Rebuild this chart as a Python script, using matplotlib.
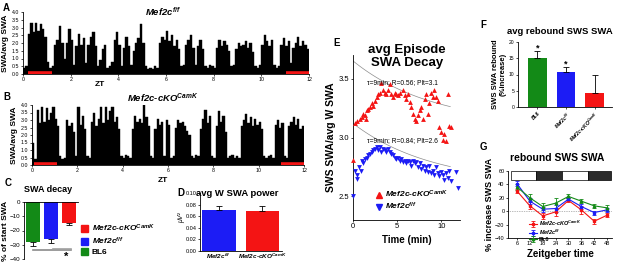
import numpy as np
import matplotlib
matplotlib.use('Agg')
import matplotlib.pyplot as plt
from matplotlib.patches import Patch, Rectangle
from matplotlib.lines import Line2D

plt.rcParams['font.family'] = ['Liberation Sans', 'DejaVu Sans']
plt.rcParams['mathtext.fontset'] = 'custom'
plt.rcParams['mathtext.rm'] = 'Liberation Sans'
plt.rcParams['mathtext.it'] = 'Liberation Sans:italic'
plt.rcParams['mathtext.bf'] = 'Liberation Sans:italic:bold'
plt.rcParams['axes.linewidth'] = 0.6
plt.rcParams['xtick.major.width'] = 0.5
plt.rcParams['ytick.major.width'] = 0.5
plt.rcParams['xtick.major.size'] = 1.5
plt.rcParams['ytick.major.size'] = 1.5
plt.rcParams['xtick.major.pad'] = 1
plt.rcParams['ytick.major.pad'] = 1

RED = '#f41414'
BLUE = '#1c1cf5'
GREEN = '#138a17'

# ---- data ----
# A / B : SWA normalised to average, 0.1 h bins over ZT 0-12
zt_bins = np.arange(120) * 0.1
swa_ff = [0.4, 0.5, 2.6, 3.3, 2.7, 3.3, 2.8, 3.2, 2.9, 2.4,
          0.8, 0.4, 0.5, 1.9, 2.2, 3.1, 2.0, 1.0, 2.0, 2.9,
          2.2, 0.6, 1.8, 2.6, 1.9, 2.3, 0.7, 1.9, 2.4, 2.7,
          1.8, 0.5, 0.9, 1.6, 1.9, 0.4, 0.5, 0.8, 2.2, 2.7,
          1.9, 0.5, 1.7, 2.4, 1.8, 0.6, 1.5, 2.0, 2.3, 3.2,
          2.0, 0.5, 0.3, 0.4, 0.3, 0.5, 0.4, 2.0, 2.4, 2.2,
          2.8, 2.1, 2.5, 1.8, 2.2, 1.6, 0.5, 0.6, 1.9, 2.2,
          2.5, 1.7, 0.6, 1.8, 2.2, 1.6, 0.5, 0.4, 0.6, 0.5,
          0.4, 1.7, 2.2, 1.8, 2.1, 1.9, 1.5, 0.5, 0.6, 1.6,
          2.0, 1.8, 1.9, 2.1, 1.7, 2.0, 1.4, 0.5, 0.4, 0.6,
          1.9, 2.5, 2.1, 1.8, 2.2, 0.6, 0.4, 0.5, 1.9, 2.3,
          1.8, 2.1, 0.7, 1.7, 2.0, 2.4, 1.8, 2.1, 1.9, 1.6]
swa_cko = [1.5, 0.4, 3.7, 2.8, 3.9, 2.9, 3.8, 3.0, 3.5, 3.9,
           3.1, 2.6, 0.6, 0.4, 0.5, 3.0, 2.6, 2.8, 2.2, 0.6,
           3.9, 2.7, 3.3, 2.4, 0.6, 0.5, 2.9, 3.5, 2.6, 3.1,
           3.9, 2.8, 3.9, 3.0, 3.6, 3.9, 2.9, 3.2, 2.4, 0.6,
           0.5, 0.7, 0.6, 0.5, 2.4, 3.3, 2.9, 3.1, 2.8, 4.0,
           3.2, 2.6, 0.6, 0.5, 2.4, 3.1, 2.7, 2.9, 0.6, 3.0,
           2.7, 0.5, 0.6, 2.5, 3.0, 2.8, 2.9, 2.6, 2.3, 2.0,
           0.6, 0.5, 0.7, 0.6, 2.4, 3.1, 3.7, 2.8, 3.3, 0.6,
           0.5, 2.6, 3.6, 2.9, 3.3, 2.2, 0.5, 0.6, 0.7, 0.5,
           0.6, 0.5, 2.6, 3.0, 3.4, 2.8, 3.2, 2.6, 3.1, 2.7,
           2.9, 2.4, 0.6, 0.5, 0.6, 0.7, 0.5, 2.7, 3.0, 2.5,
           2.8, 0.6, 0.5, 2.6, 2.9, 3.2, 2.7, 3.1, 2.4, 2.6]
dep_ff = [(0.22, 1.2), (11.05, 12.0)]
dep_cko = [(0.08, 1.1), (11.0, 12.0)]

# C : SWA decay (% of start SWA)
c_groups = ['BL6', 'Mef2c-ff', 'Mef2c-cKO']
c_vals = [-28, -26, -15]
c_err = [3, 2.5, 1.2]

# D : avg W SWA power
d_vals = [0.070, 0.069]
d_err = [0.008, 0.009]

# E : avg episode SWA decay
red_t = [0, 0.22, 0.49, 0.79, 0.97, 1.16, 1.35, 1.46, 1.54, 1.72, 1.91, 2.10, 2.28, 2.47, 2.66,
         2.85, 3.03, 3.22, 3.41, 3.60, 3.78, 3.97, 4.16, 4.34, 4.53, 4.72, 4.91, 5.09, 5.28, 5.66,
         5.84, 6.03, 6.22, 6.40, 6.59, 6.78, 6.97, 7.15, 7.34, 7.53, 7.72, 7.90, 8.09, 8.28, 8.46,
         8.65, 8.84, 9.03, 9.21, 9.40, 9.59, 9.78, 9.96, 10.15, 10.34, 10.52, 10.71, 10.90, 11.05]
red_y = [2.81, 3.12, 3.14, 3.16, 3.17, 3.20, 3.19, 3.16, 3.23, 3.24, 3.26, 3.29, 3.27, 3.31, 3.34,
         3.37, 3.38, 3.46, 3.40, 3.38, 3.37, 3.40, 3.45, 3.37, 3.34, 3.38, 3.37, 3.36, 3.38, 3.40,
         3.36, 3.33, 3.37, 3.30, 3.26, 3.20, 3.16, 3.14, 3.19, 3.23, 3.26, 3.16, 3.33, 3.37, 3.20,
         3.29, 3.38, 3.34, 3.40, 3.34, 3.31, 3.09, 3.05, 2.98, 3.03, 2.97, 3.37, 3.10, 3.09]
blue_t = [0, 0.22, 0.41, 0.49, 0.71, 0.86, 0.97, 1.16, 1.35, 1.54, 1.72, 1.91, 2.10, 2.28, 2.47,
          2.66, 2.85, 3.03, 3.22, 3.41, 3.60, 3.78, 3.97, 4.16, 4.34, 4.53, 4.72, 4.91, 5.09, 5.28,
          5.47, 5.66, 5.84, 6.03, 6.22, 6.40, 6.59, 6.78, 6.97, 7.15, 7.34, 7.53, 7.72, 7.90, 8.09,
          8.28, 8.46, 8.65, 8.84, 9.03, 9.21, 9.40, 9.59, 9.78, 9.96, 10.15, 10.34, 10.52, 10.71, 10.90,
          11.10, 11.60, 11.90]
blue_y = [2.50, 2.72, 2.68, 2.65, 2.75, 2.72, 2.80, 2.78, 2.82, 2.83, 2.85, 2.86, 2.88, 2.89, 2.90,
          2.92, 2.89, 2.92, 2.88, 2.90, 2.89, 2.88, 2.90, 2.88, 2.86, 2.85, 2.83, 2.82, 2.83, 2.80,
          2.82, 2.79, 2.80, 2.78, 2.80, 2.79, 2.76, 2.80, 2.78, 2.79, 2.75, 2.78, 2.73, 2.76, 2.72,
          2.75, 2.71, 2.76, 2.70, 2.72, 2.68, 2.75, 2.70, 2.67, 2.71, 2.68, 2.64, 2.70, 2.66, 2.72,
          2.63, 2.71, 2.57]
# exponential fits (tau, plateau, amplitude)
fit_red = (9, 3.1, 0.55)
fit_blue = (9, 2.6, 0.52)

# F : avg rebound SWS SWA (% increase)
f_vals = [15.0, 10.8, 4.3]
f_err = [2.3, 1.5, 5.5]

# G : rebound SWS SWA over zeitgeber time
g_zt = [6, 12, 18, 24, 30, 36, 42, 48]
g_cko = [30, 8, -7, -1, 16, 2, -15, -6]
g_cko_err = [3, 5, 5, 6, 3, 6, 4, 3]
g_ff = [41, 15, 3, 4, 18, 7, -2, 2]
g_ff_err = [4, 4, 4, 5, 2, 4, 3, 3]
g_bl6 = [36, 20, 7, 12, 22, 15, 8, 5]
g_bl6_err = [4, 5, 5, 7, 3, 3, 3, 4]
g_light = [(3, 15, 'white'), (15, 27, '#2b2b2b'), (27, 39, 'white'), (39, 50, '#2b2b2b')]

W, H = 617, 262
fig = plt.figure(figsize=(W / 100, H / 100), dpi=100)


def px_axes(x0, y0, x1, y1):
    return fig.add_axes([x0 / W, 1 - y1 / H, (x1 - x0) / W, (y1 - y0) / H])


def ftext(x, y, s, **kw):
    fig.text(x / W, 1 - y / H, s, **kw)


def gene(name, sup):
    return name + '$^{\\mathbf{' + sup + '}}$'


FF = gene('Mef2c', 'f/f')
CKO = gene('Mef2c-cKO', 'CamK')
gkw = dict(fontstyle='italic', fontweight='bold')


def clean(ax, fs=4):
    ax.spines['top'].set_visible(False)
    ax.spines['right'].set_visible(False)
    ax.tick_params(labelsize=fs)


# ---- A and B ----
for rect, vals, dep, title, letter, ly, ty in [((23, 12, 309, 74), swa_ff, dep_ff, FF, 'A', 8, 12),
                                              ((32, 105, 304, 165), swa_cko, dep_cko, CKO, 'B', 97, 98)]:
    ax = px_axes(*rect)
    ax.bar(zt_bins, vals, width=0.1, align='edge', color='black', edgecolor='black', linewidth=0.3)
    for s, e in dep:
        ax.plot([s, e], [0.07, 0.07], color=RED, lw=2.6, solid_capstyle='butt')
    ax.set_xlim(0, 12)
    ax.set_ylim(0, 4)
    ax.set_xticks(range(0, 13, 2))
    ax.set_yticks(np.arange(0, 4.01, 0.5))
    ax.set_yticklabels(['%.1f' % v for v in np.arange(0, 4.01, 0.5)])
    clean(ax, 3.8)
    ax.set_ylabel('SWA/avg SWA', fontsize=6, fontweight='bold', labelpad=2)
    ftext(163, ty, title, fontsize=6.8, ha='center', va='center', **gkw)
    ftext(3, ly, letter, fontsize=7, fontweight='bold', va='center')
ftext(100, 85, 'ZT', fontsize=6, fontweight='bold', ha='center', va='center')
ftext(163, 180, 'ZT', fontsize=6, fontweight='bold', ha='center', va='center')

# ---- C ----
ax = px_axes(24, 202, 78, 259)
cc = [GREEN, BLUE, RED]
ax.bar(range(3), c_vals, width=0.8, color=cc, edgecolor='none',
       yerr=[c_err, [0, 0, 0]], error_kw=dict(ecolor='black', elinewidth=0.6, capsize=2, capthick=0.6))
ax.set_xlim(-0.5, 2.5)
ax.set_ylim(-40, 0)
ax.set_xticks([])
ax.set_yticks([0, -10, -20, -30, -40])
ax.spines['right'].set_visible(False)
ax.spines['bottom'].set_visible(False)
ax.tick_params(labelsize=4.5)
ax.set_ylabel('% of start SWA', fontsize=6, fontweight='bold', labelpad=1)
ax.plot([0, 2.1], [-33.7, -33.7], color='#8a8a8a', lw=1.2, clip_on=False)
ax.plot([1.1, 2.1], [-32.8, -32.8], color='#a0a0a0', lw=1.2, clip_on=False)
ax.text(1.85, -38.5, '*', fontsize=8, fontweight='bold', ha='center', va='center')
ftext(48, 190, 'SWA decay', fontsize=6.5, fontweight='bold', ha='center', va='center')
ftext(5, 183, 'C', fontsize=7, fontweight='bold', va='center')
handles = [Patch(color=RED), Patch(color=BLUE), Patch(color=GREEN)]
leg = fig.legend(handles, [CKO, FF, 'BL6'], loc='upper left', bbox_to_anchor=(81 / W, 1 - 223 / H),
                 frameon=False, fontsize=6, handlelength=0.9, handleheight=0.9, labelspacing=0.15,
                 handletextpad=0.4, borderpad=0, borderaxespad=0)
for i, t in enumerate(leg.get_texts()):
    t.set_fontweight('bold')
    if i < 2:
        t.set_fontstyle('italic')

# ---- D ----
ax = px_axes(200, 193, 282, 251)
ax.bar([0, 1], d_vals, width=0.77, color=[BLUE, RED], edgecolor='none',
       yerr=[[0, 0], d_err], error_kw=dict(ecolor='black', elinewidth=0.6, capsize=2.5, capthick=0.6))
ax.set_xlim(-0.43, 1.45)
ax.set_ylim(0, 0.10)
ax.set_yticks(np.arange(0, 0.101, 0.02))
ax.set_yticklabels(['%.2f' % v for v in np.arange(0, 0.101, 0.02)])
ax.set_xticks([0, 1])
ax.set_xticklabels([FF, CKO], **gkw)
clean(ax, 4)
ax.tick_params(axis='x', labelsize=4.6, length=0, pad=0.5)
ftext(182, 218, 'μV²', fontsize=5, fontstyle='italic', rotation=90, ha='center', va='center')
ftext(237, 194, 'avg W SWA power', fontsize=6.8, fontweight='bold', ha='center', va='center')
ftext(177, 193, 'D', fontsize=7, fontweight='bold', va='center')

# ---- E ----
ax = px_axes(353, 55, 460, 220)
tt = np.linspace(0, 11, 100)
for tau, plat, amp in [fit_red, fit_blue]:
    ax.plot(tt, plat + amp * np.exp(-tt / tau), color='#8c8c8c', lw=0.5, zorder=1)
ax.scatter(red_t, red_y, marker='^', s=12, color=RED, linewidths=0, zorder=3, clip_on=False)
ax.scatter(blue_t, blue_y, marker='v', s=12, color=BLUE, linewidths=0, zorder=3, clip_on=False)
ax.set_xlim(0, 12.1)
ax.set_ylim(2.3, 3.7)
ax.set_xticks([0, 5, 10])
ax.set_yticks([2.5, 3.0, 3.5])
clean(ax, 5.5)
ax.set_xlabel('Time (min)', fontsize=7, fontweight='bold', labelpad=3)
ax.set_ylabel('SWS SWA/avg W SWA', fontsize=7.5, fontweight='bold', labelpad=2)
ax.text(1.55, 3.465, 'τ=9min; R=0.56; Plt=3.1', fontsize=4.8, va='center')
ax.text(1.55, 2.975, 'τ=9min; R=0.84; Plt=2.6', fontsize=4.8, va='center')
eh = [Line2D([], [], marker='^', color=RED, ls='none', ms=4),
      Line2D([], [], marker='v', color=BLUE, ls='none', ms=4)]
leg = ax.legend(eh, [CKO, FF], loc='upper left', bbox_to_anchor=(0.2, 0.19), frameon=False,
                fontsize=6, handlelength=1, handletextpad=0.3, labelspacing=0.1, borderpad=0,
                borderaxespad=0)
for t in leg.get_texts():
    t.set_fontweight('bold')
    t.set_fontstyle('italic')
ftext(407, 50, 'avg Episode', fontsize=9.5, fontweight='bold', ha='center', va='center')
ftext(407, 63, 'SWA Decay', fontsize=9.5, fontweight='bold', ha='center', va='center')
ftext(333, 43, 'E', fontsize=7, fontweight='bold', va='center')

# ---- F ----
ax = px_axes(518, 42, 612, 107)
ax.bar(range(3), f_vals, width=0.655, color=[GREEN, BLUE, RED], edgecolor='none',
       yerr=[[0, 0, 0], f_err], error_kw=dict(ecolor='black', elinewidth=0.6, capsize=2, capthick=0.6))
ax.text(0, 18.0, '*', fontsize=6.5, fontweight='bold', ha='center', va='center')
ax.text(1, 13.2, '*', fontsize=6.5, fontweight='bold', ha='center', va='center')
ax.set_xlim(-0.67, 2.6)
ax.set_ylim(0, 20)
ax.set_yticks([0, 5, 10, 15, 20])
ax.set_xticks(range(3))
ax.set_xticklabels(['BL6', FF, CKO], rotation=45, ha='right', rotation_mode='anchor', **gkw)
clean(ax, 3.6)
ax.set_ylabel('SWS SWA rebound\n(%increase)', fontsize=5.5, fontweight='bold', labelpad=2,
              linespacing=1.0)
ftext(560, 32, 'avg rebound SWS SWA', fontsize=6.8, fontweight='bold', ha='center', va='center')
ftext(480, 25, 'F', fontsize=7, fontweight='bold', va='center')

# ---- G ----
ax = px_axes(508, 171, 612, 238)
for s, e, c in g_light:
    ax.add_patch(Rectangle((s, 46), e - s, 14, facecolor=c, edgecolor='black', lw=0.5, zorder=2))
ax.axhline(0, color='#777777', lw=0.5, ls=(0, (1, 1.5)), zorder=1)
hs = []
for vals, err, c, m in [(g_cko, g_cko_err, RED, 's'), (g_ff, g_ff_err, BLUE, 's'),
                        (g_bl6, g_bl6_err, GREEN, '^')]:
    h = ax.errorbar(g_zt, vals, yerr=err, color=c, marker=m, ms=1.8, lw=0.8, elinewidth=0.6,
                    capsize=1.2, capthick=0.6, zorder=3)
    hs.append(h)
ax.set_xlim(1.8, 50.3)
ax.set_ylim(-40, 60)
ax.set_xticks(g_zt)
ax.set_yticks(range(-40, 61, 20))
clean(ax, 4)
ax.set_xlabel('Zeitgeber time', fontsize=7, fontweight='bold', labelpad=2)
ax.set_ylabel('% increase SWS SWA', fontsize=6.5, fontweight='bold', labelpad=1)
leg = ax.legend(hs, [CKO, FF, 'BL6'], loc='upper left', bbox_to_anchor=(0.2, 0.29), frameon=False,
                fontsize=4, handlelength=1.5, handletextpad=0.3, labelspacing=0.0, borderpad=0,
                borderaxespad=0)
for i, t in enumerate(leg.get_texts()):
    t.set_fontweight('bold')
    if i < 2:
        t.set_fontstyle('italic')
ftext(557, 158, 'rebound SWS SWA', fontsize=7.5, fontweight='bold', ha='center', va='center')
ftext(480, 147, 'G', fontsize=7, fontweight='bold', va='center')

fig.savefig('out.png', dpi=100)
